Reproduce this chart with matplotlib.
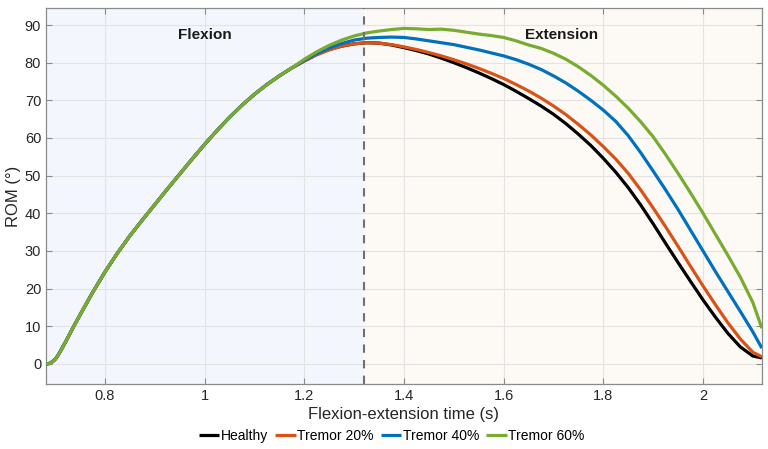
"""Flexion-extension ROM curves for healthy vs. tremor conditions."""

import matplotlib.pyplot as plt

plt.rcParams["font.family"] = ["Liberation Sans", "DejaVu Sans"]

# shared flexion rise (all four curves overlap here)
RISE_T = [0.682, 0.688, 0.695, 0.70, 0.705, 0.71, 0.72, 0.73, 0.74, 0.75, 0.775, 0.8,
          0.825, 0.85, 0.875, 0.9, 0.925, 0.95, 0.975, 1.0, 1.025, 1.05, 1.075, 1.1,
          1.125, 1.15, 1.175]
RISE_ROM = [0.0, 0.1, 0.6, 1.2, 2.1, 3.2, 5.6, 8.1, 10.6, 13.0, 18.9, 24.4,
            29.4, 34.0, 38.2, 42.3, 46.4, 50.4, 54.4, 58.3, 62.0, 65.5, 68.7, 71.6,
            74.2, 76.5, 78.6]

# extension phase, one value per 25 ms and the last sample at 2.118 s
EXT_T = [1.2, 1.225, 1.25, 1.275, 1.3, 1.325, 1.35, 1.375, 1.4, 1.425, 1.45, 1.475,
         1.5, 1.525, 1.55, 1.575, 1.6, 1.625, 1.65, 1.675, 1.7, 1.725, 1.75, 1.775,
         1.8, 1.825, 1.85, 1.875, 1.9, 1.925, 1.95, 1.975, 2.0, 2.025, 2.05, 2.075,
         2.1, 2.118]

HEALTHY_ROM = [80.5, 82.2, 83.5, 84.4, 85.0, 85.3, 85.2, 84.7, 84.0, 83.2, 82.3, 81.2,
               80.0, 78.7, 77.3, 75.8, 74.2, 72.4, 70.5, 68.5, 66.3, 63.8, 61.0, 58.0,
               54.6, 50.9, 46.8, 42.2, 37.2, 32.0, 26.9, 21.9, 17.0, 12.4, 8.1, 4.5,
               2.1, 1.6]
TREMOR20_ROM = [80.4, 82.1, 83.4, 84.4, 85.0, 85.3, 85.2, 84.8, 84.2, 83.5, 82.7, 81.8,
                80.8, 79.7, 78.5, 77.2, 75.8, 74.2, 72.5, 70.6, 68.5, 66.2, 63.6, 60.8,
                57.7, 54.4, 50.6, 46.2, 41.4, 36.4, 31.2, 25.9, 20.7, 15.7, 10.9, 6.6,
                3.1, 1.9]
TREMOR40_ROM = [80.6, 82.4, 83.9, 85.1, 86.0, 86.5, 86.7, 86.8, 86.7, 86.3, 85.8, 85.3,
                84.8, 84.1, 83.4, 82.6, 81.8, 80.8, 79.6, 78.2, 76.5, 74.6, 72.4, 70.0,
                67.4, 64.4, 60.6, 56.1, 51.2, 46.2, 41.0, 35.5, 30.0, 24.5, 19.2, 13.9,
                8.5, 4.2]
TREMOR60_ROM = [80.9, 82.9, 84.6, 86.0, 87.1, 87.9, 88.4, 88.8, 89.1, 89.0, 88.8, 88.9,
                88.6, 88.1, 87.6, 87.2, 86.7, 85.8, 84.7, 83.8, 82.5, 80.9, 78.9, 76.6,
                74.0, 71.1, 67.9, 64.3, 60.3, 55.6, 50.6, 45.4, 40.0, 34.4, 28.8, 23.0,
                16.3, 9.5]

LABELS = ["Healthy", "Tremor 20%", "Tremor 40%", "Tremor 60%"]
COLORS = ["#000000", "#D95319", "#0072BD", "#77AC30"]

PHASE_SPLIT = 1.32
X_TICKS = [0.8, 1.0, 1.2, 1.4, 1.6, 1.8, 2.0]
X_TICK_LABELS = ["0.8", "1", "1.2", "1.4", "1.6", "1.8", "2"]
Y_TICKS = [0, 10, 20, 30, 40, 50, 60, 70, 80, 90]


def main() -> None:
    fig = plt.figure(figsize=(7.68, 4.49), dpi=100)
    ax = fig.add_axes([0.060, 0.145, 0.932, 0.837])

    xmin, xmax = RISE_T[0], EXT_T[-1]
    ax.axvspan(xmin, PHASE_SPLIT, color="#F3F7FD", zorder=0, lw=0)
    ax.axvspan(PHASE_SPLIT, xmax, color="#FDFAF5", zorder=0, lw=0)

    curves = [HEALTHY_ROM, TREMOR20_ROM, TREMOR40_ROM, TREMOR60_ROM]
    for rom, label, color in zip(curves, LABELS, COLORS):
        ax.plot(RISE_T + EXT_T, RISE_ROM + rom, color=color, lw=2.3, label=label,
                solid_joinstyle="round", solid_capstyle="butt", zorder=3)

    ax.axvline(PHASE_SPLIT, color="#707070", lw=1.5, ls=(0, (4, 3.5)), zorder=4)

    ax.text(1.0, 87.3, "Flexion", fontsize=11, fontweight="bold", ha="center",
            va="center", color="#1a1a1a")
    ax.text(1.716, 87.3, "Extension", fontsize=11, fontweight="bold", ha="center",
            va="center", color="#1a1a1a")

    ax.set_xlim(xmin, xmax)
    ax.set_ylim(-5.3, 94.5)
    ax.set_xticks(X_TICKS, X_TICK_LABELS)
    ax.set_yticks(Y_TICKS)
    ax.tick_params(direction="in", top=True, right=True, length=4, width=0.8,
                   colors="#8a8a8a", labelcolor="#262626", labelsize=10.5)
    ax.grid(True, color="#e3e3e3", lw=0.8, zorder=1)
    ax.set_axisbelow(True)
    for spine in ax.spines.values():
        spine.set_color("#8a8a8a")
        spine.set_linewidth(0.9)

    ax.set_xlabel("Flexion-extension time (s)", fontsize=12, color="#262626", labelpad=3)
    ax.set_ylabel("ROM (°)", fontsize=12, color="#262626", labelpad=3)

    fig.legend(loc="center", bbox_to_anchor=(0.51, 0.029), ncol=4, frameon=False,
               fontsize=10, handlelength=1.5, handletextpad=0.1, columnspacing=0.5,
               borderaxespad=0)

    fig.savefig("out.png", dpi=100)
    plt.close(fig)


if __name__ == "__main__":
    main()
